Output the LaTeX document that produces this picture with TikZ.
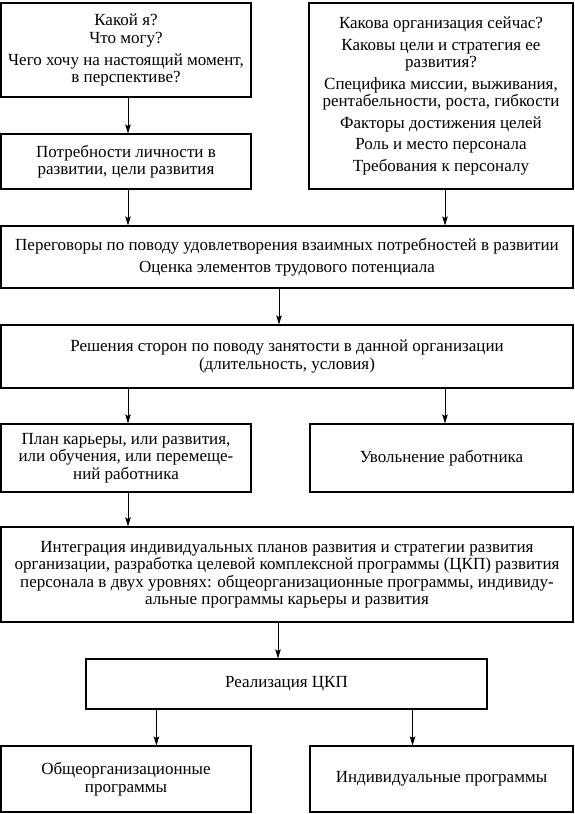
\documentclass[tikz,border=0pt]{standalone}
\usepackage{fontspec}
\setmainfont{Liberation Serif}
\usetikzlibrary{arrows.meta,calc}
\tikzset{
  box/.style={draw, line width=1.1pt, rectangle, align=center, inner sep=2pt,
    font=\fontsize{17}{17.5}\selectfont},
  arr/.style={line width=0.9pt, -{Stealth[length=9pt,width=5.5pt,inset=1.5pt]}},
}
\newcommand{\psep}{\\[4pt]}
\begin{document}
\begin{tikzpicture}[x=1pt,y=-1pt]
\useasboundingbox (0,0) rectangle (574,814);
\node[box, minimum width=250pt, minimum height=94pt] (b1) at (126,50)
  {Какой я?\\[1pt] Что могу?\psep Чего хочу на настоящий момент,\\ в перспективе?};
\node[box, minimum width=250pt, minimum height=55pt] (b2) at (126,161.5)
  {Потребности личности в\\ развитии, цели развития};
\node[box, minimum width=264pt, minimum height=186pt] (b3) at (441,96)
  {Какова организация сейчас?\psep Каковы цели и стратегия ее\\ развития?\psep
   Специфика миссии, выживания,\\ рентабельности, роста, гибкости\psep
   Факторы достижения целей\psep Роль и место персонала\psep Требования к персоналу};
\node[box, minimum width=572pt, minimum height=62pt] (b4) at (287,257)
  {Переговоры по поводу удовлетворения взаимных потребностей в развитии\psep
   Оценка элементов трудового потенциала};
\node[box, minimum width=572pt, minimum height=63pt] (b5) at (287,356.5)
  {Решения сторон по поводу занятости в данной организации\\ (длительность, условия)};
\node[box, minimum width=250pt, minimum height=68pt] (b6) at (126,458)
  {План карьеры, или развития,\\ или обучения, или перемеще-\\ний работника};
\node[box, minimum width=263pt, minimum height=68pt] (b7) at (441.5,458)
  {Увольнение работника};
\node[box, minimum width=572pt, minimum height=95pt] (b8) at (287,574.5)
  {Интеграция индивидуальных планов развития и стратегии развития\\
   организации, разработка целевой комплексной программы (ЦКП) развития\\
   персонала в двух уровнях: общеорганизационные программы, индивиду-\\
   альные программы карьеры и развития};
\node[box, minimum width=401pt, minimum height=50pt] (b9) at (286.5,684)
  {Реализация ЦКП};
\node[box, minimum width=250pt, minimum height=66pt] (b10) at (126,779)
  {Общеорганизационные\\ программы};
\node[box, minimum width=263pt, minimum height=66pt] (b11) at (441.5,779)
  {Индивидуальные программы};

\coordinate (p1) at ($(b9.south west)+(71,0)$);
\coordinate (p2) at ($(b9.south east)+(-75,0)$);

\draw[arr] ([xshift=2pt]b1.south) -- ([xshift=2pt]b2.north);
\draw[arr] ([xshift=2pt]b2.south) -- ([xshift=2pt]b2.south |- b4.north);
\draw[arr] ([xshift=4pt]b3.south) -- ([xshift=4pt]b3.south |- b4.north);
\draw[arr] ([xshift=-8pt]b4.south) -- ([xshift=-8pt]b5.north);
\draw[arr] ([xshift=2pt]b6.north |- b5.south) -- ([xshift=2pt]b6.north);
\draw[arr] ([xshift=3.5pt]b7.north |- b5.south) -- ([xshift=3.5pt]b7.north);
\draw[arr] ([xshift=2pt]b6.south) -- ([xshift=2pt]b6.south |- b8.north);
\draw[arr] ([xshift=-9pt]b8.south) -- ([xshift=-8.5pt]b9.north);
\draw[arr] (p1) -- (p1 |- b10.north);
\draw[arr] (p2) -- (p2 |- b11.north);
\end{tikzpicture}
\end{document}
